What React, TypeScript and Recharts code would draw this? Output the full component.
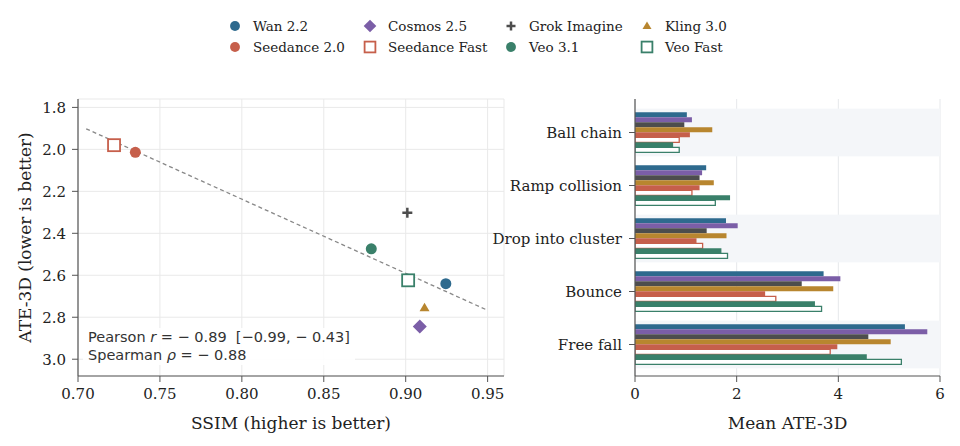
import React from 'react';
import {
  ScatterChart, Scatter, XAxis, YAxis, CartesianGrid, ReferenceLine,
  BarChart, Bar, ReferenceArea,
} from 'recharts';

// ---------- data ----------
const models = ['Wan 2.2', 'Cosmos 2.5', 'Grok Imagine', 'Kling 3.0', 'Seedance 2.0', 'Seedance Fast', 'Veo 3.1', 'Veo Fast'];
const modelColors = ['#2e6a8e', '#7b5ea7', '#4d4d4d', '#b8862f', '#c65f4b', '#c65f4b', '#3a806a', '#3a806a'];
const modelMarkers = ['circle', 'diamond', 'plus', 'triangle', 'circle', 'square', 'circle', 'square'];
const modelOutlined = [false, false, false, false, false, true, false, true];

const ssim = [0.9245, 0.9086, 0.901, 0.9115, 0.735, 0.722, 0.879, 0.9015];
const ate = [2.64, 2.844, 2.302, 2.755, 2.014, 1.98, 2.474, 2.624];

const trendX = [0.705, 0.95];
const trendY = [1.902, 2.767];

const ssimTicks = [0.7, 0.75, 0.8, 0.85, 0.9, 0.95];
const ateTicks = [1.8, 2.0, 2.2, 2.4, 2.6, 2.8, 3.0];

const scenarios = ['Ball chain', 'Ramp collision', 'Drop into cluster', 'Bounce', 'Free fall'];
const wan = [1.02, 1.40, 1.79, 3.71, 5.31];
const cosmos = [1.12, 1.32, 2.02, 4.04, 5.75];
const grok = [0.97, 1.27, 1.41, 3.28, 4.59];
const kling = [1.52, 1.55, 1.80, 3.90, 5.03];
const seedance = [1.08, 1.27, 1.21, 2.56, 3.98];
const seedanceFast = [0.87, 1.12, 1.33, 2.77, 3.84];
const veo = [0.75, 1.87, 1.70, 3.54, 4.56];
const veoFast = [0.87, 1.58, 1.82, 3.67, 5.24];
const barSeries = [wan, cosmos, grok, kling, seedance, seedanceFast, veo, veoFast];
const shadedScenarios = ['Ball chain', 'Drop into cluster', 'Free fall'];
const ateBarTicks = [0, 2, 4, 6];

// legend layout: column-major order
const legendOrder = [0, 4, 1, 5, 2, 6, 3, 7];

const SERIF = "'DejaVu Serif', serif";
const SANS = "'DejaVu Sans', sans-serif";
const TEXT = '#222';
const AXIS = '#555';

const barData = scenarios.map((name, i) => {
  const row: Record<string, any> = { name };
  models.forEach((m, j) => { row[m] = barSeries[j][i]; });
  return row;
});

function Marker({ kind, cx, cy, color, scale = 1 }: { kind: string; cx: number; cy: number; color: string; scale?: number }) {
  if (kind === 'circle') return <circle cx={cx} cy={cy} r={5.5 * scale} fill={color} />;
  if (kind === 'diamond') {
    const s = 7 * scale;
    return <polygon points={`${cx},${cy - s} ${cx + s},${cy} ${cx},${cy + s} ${cx - s},${cy}`} fill={color} />;
  }
  if (kind === 'plus') {
    const s = 5 * scale;
    return (
      <g stroke={color} strokeWidth={2.5}>
        <line x1={cx - s} y1={cy} x2={cx + s} y2={cy} />
        <line x1={cx} y1={cy - s} x2={cx} y2={cy + s} />
      </g>
    );
  }
  if (kind === 'triangle') {
    const w = 5 * scale, h = 8.5 * scale;
    return <polygon points={`${cx},${cy - h * 0.6} ${cx + w},${cy + h * 0.4} ${cx - w},${cy + h * 0.4}`} fill={color} />;
  }
  const s = 6 * scale;
  return <rect x={cx - s} y={cy - s} width={2 * s} height={2 * s} fill="#fff" stroke={color} strokeWidth={1.8} />;
}

const BandShape = (p: any) => (
  <rect x={p.x} y={p.y + p.height * 0.05} width={p.width} height={p.height * 0.9} fill="#f4f6f9" />
);

export default function App() {
  return (
    <div style={{ position: 'fixed', left: 0, top: 0, width: 960, height: 446, background: '#fff', overflow: 'hidden' }}>
      {/* Legend */}
      <svg width={960} height={70} style={{ position: 'absolute', left: 0, top: 0 }}>
        {legendOrder.map((mi, k) => {
          const col = Math.floor(k / 2);
          const row = k % 2;
          const mx = [235, 370, 511, 647][col];
          const y = [26, 47][row];
          return (
            <g key={mi}>
              <Marker kind={modelMarkers[mi]} cx={mx} cy={y} color={modelColors[mi]} scale={0.9} />
              <text x={mx + 18} y={y} dy="0.35em" fontFamily={SERIF} fontSize={13.5} fill={TEXT}>{models[mi]}</text>
            </g>
          );
        })}
      </svg>

      {/* Left: scatter */}
      <div style={{ position: 'absolute', left: 0, top: 0 }}>
        <ScatterChart width={520} height={446} margin={{ top: 99, right: 16, bottom: 0, left: 0 }}>
          <CartesianGrid stroke="#e9e9e9" strokeWidth={1} />
          <XAxis
            type="number" dataKey="x" domain={[0.7, 0.96]} ticks={ssimTicks} allowDataOverflow
            height={70} tickFormatter={(v: number) => v.toFixed(2)}
            tick={{ fill: TEXT, fontSize: 15, fontFamily: SERIF }}
            tickSize={6} tickMargin={6}
            axisLine={{ stroke: AXIS, strokeWidth: 1.2 }} tickLine={{ stroke: AXIS }}
            label={{ value: 'SSIM (higher is better)', position: 'insideBottom', offset: 17, style: { fill: TEXT, fontSize: 17, fontFamily: SERIF } }}
          />
          <YAxis
            type="number" dataKey="y" domain={[1.76, 3.08]} ticks={ateTicks} reversed allowDataOverflow
            width={78} tickFormatter={(v: number) => v.toFixed(1)}
            tick={{ fill: TEXT, fontSize: 15, fontFamily: SERIF }}
            tickSize={6} tickMargin={6}
            axisLine={{ stroke: AXIS, strokeWidth: 1.2 }} tickLine={{ stroke: AXIS }}
            label={{ value: 'ATE-3D (lower is better)', angle: -90, position: 'insideLeft', offset: 25, style: { fill: TEXT, fontSize: 17, fontFamily: SERIF, textAnchor: 'middle' } }}
          />
          <ReferenceLine
            segment={[{ x: trendX[0], y: trendY[0] }, { x: trendX[1], y: trendY[1] }]}
            stroke="#888" strokeWidth={1.3} strokeDasharray="4 3" ifOverflow="visible"
          />
          {models.map((m, i) => (
            <Scatter
              key={m}
              name={m}
              data={[{ x: ssim[i], y: ate[i] }]}
              isAnimationActive={false}
              shape={(p: any) => <Marker kind={modelMarkers[i]} cx={p.cx} cy={p.cy} color={modelColors[i]} />}
            />
          ))}
        </ScatterChart>
      </div>

      {/* correlation box */}
      <div style={{
        position: 'absolute', left: 83, top: 328, padding: '1px 5px', background: 'rgba(255,255,255,0.9)',
        fontFamily: SANS, fontSize: 14.5, lineHeight: '17.7px', color: '#333', whiteSpace: 'pre',
      }}>
        <div>Pearson <i>r</i> = − 0.89  [−0.99, − 0.43]</div>
        <div>Spearman <i>ρ</i> = − 0.88</div>
      </div>

      {/* Right: bars */}
      <div style={{ position: 'absolute', left: 480, top: 0 }}>
        <BarChart
          width={480} height={446} layout="vertical" data={barData}
          margin={{ top: 99, right: 20, bottom: 0, left: 0 }}
          barCategoryGap="12%" barGap={0}
        >
          {shadedScenarios.map((s) => (
            <ReferenceArea key={s} y1={s} y2={s} shape={BandShape} ifOverflow="visible" />
          ))}
          <CartesianGrid horizontal={false} stroke="#e6e8eb" strokeWidth={1} />
          <XAxis
            type="number" domain={[0, 6]} ticks={ateBarTicks} allowDataOverflow height={70}
            tick={{ fill: TEXT, fontSize: 15, fontFamily: SERIF }}
            tickSize={6} tickMargin={6}
            axisLine={{ stroke: AXIS, strokeWidth: 1.2 }} tickLine={{ stroke: AXIS }}
            label={{ value: 'Mean ATE-3D', position: 'insideBottom', offset: 17, style: { fill: TEXT, fontSize: 17, fontFamily: SERIF } }}
          />
          <YAxis
            type="category" dataKey="name" width={155} padding={{ top: 7, bottom: 5 }}
            tick={{ fill: TEXT, fontSize: 15, fontFamily: SERIF }}
            tickSize={6} tickMargin={7}
            axisLine={{ stroke: AXIS, strokeWidth: 1.2 }} tickLine={{ stroke: AXIS }}
          />
          {models.map((m, i) => (
            <Bar
              key={m} dataKey={m} isAnimationActive={false}
              fill={modelOutlined[i] ? '#fff' : modelColors[i]}
              stroke={modelOutlined[i] ? modelColors[i] : 'none'}
              strokeWidth={modelOutlined[i] ? 1.3 : 0}
            />
          ))}
        </BarChart>
      </div>
    </div>
  );
}
